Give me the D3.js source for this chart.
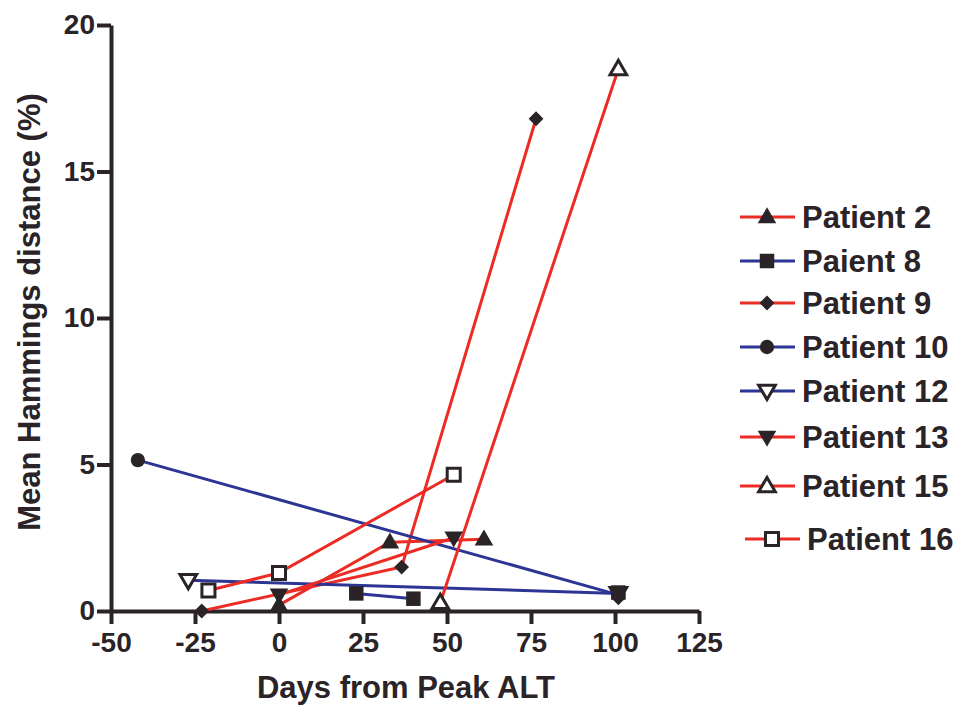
<!DOCTYPE html>
<html>
<head>
<meta charset="utf-8">
<script src="https://cdn.jsdelivr.net/npm/d3@7"></script>
<style>
  body { margin: 0; background: #fff; }
  svg text { font-family: "Liberation Sans", Arial, sans-serif; font-weight: bold; fill: #2a2327; }
</style>
</head>
<body>
<div id="chart"></div>
<script>
// data (null = no connecting line)
var names = ["Patient 2", "Paient 8", "Patient 9", "Patient 10", "Patient 12", "Patient 13", "Patient 15", "Patient 16"];
var p2Days = [0, 33, 61];            var p2Vals = [0.2, 2.35, 2.45];
var p8Days = [23, 40, null, 101];    var p8Vals = [0.6, 0.42, null, 0.63];
var p9Days = [-23, 36.5, 76.5, null, 101]; var p9Vals = [0, 1.5, 16.8, null, 0.45];
var p10Days = [-42, 101];            var p10Vals = [5.15, 0.55];
var p12Days = [-27, 101];            var p12Vals = [1.05, 0.6];
var p13Days = [0, 52];               var p13Vals = [0.55, 2.5];
var p15Days = [48, 101];             var p15Vals = [0.28, 18.5];
var p16Days = [-21, 0, 52];          var p16Vals = [0.7, 1.3, 4.65];
var xTicks = [-50, -25, 0, 25, 50, 75, 100, 125];
var yTicks = [0, 5, 10, 15, 20];

var allDays = [p2Days, p8Days, p9Days, p10Days, p12Days, p13Days, p15Days, p16Days];
var allVals = [p2Vals, p8Vals, p9Vals, p10Vals, p12Vals, p13Vals, p15Vals, p16Vals];

// styles
var red = "#ec2c24";
var blue = "#2c3594";
var ink = "#2a2327";
var colors = [red, blue, red, blue, blue, red, red, red];
var shapes = ["triUp", "square", "diamond", "circle", "triDownOpen", "triDown", "triUpOpen", "squareOpen"];

var width = 959, height = 706;
var margin = {top: 25, left: 111, right: 260, bottom: 95};
var inner_width = 699 - margin.left;
var inner_height = 611 - margin.top;

var svg = d3.select("#chart").append("svg")
  .attr("width", width).attr("height", height);
var g = svg.append("g")
  .attr("transform", "translate(" + margin.left + "," + margin.top + ")");

var xScale = d3.scaleLinear().domain([-50, 125]).range([0, inner_width]);
var yScale = d3.scaleLinear().domain([0, 20]).range([inner_height, 0]);

// axes
var xAxis = g.append("g")
  .attr("transform", "translate(0," + inner_height + ")")
  .call(d3.axisBottom(xScale).tickValues(xTicks).tickSize(13).tickSizeOuter(0)
        .tickPadding(6).tickFormat(function(d) { return String(d); }));
var yAxis = g.append("g")
  .call(d3.axisLeft(yScale).tickValues(yTicks).tickSize(14).tickSizeOuter(0)
        .tickPadding(2).tickFormat(function(d) { return String(d); }));
[xAxis, yAxis].forEach(function(a) {
  a.select(".domain").attr("stroke", ink).attr("stroke-width", 4);
  a.selectAll(".tick line").attr("stroke", ink).attr("stroke-width", 4);
  a.selectAll(".tick text").attr("font-size", 28).attr("fill", ink)
   .attr("font-family", "Liberation Sans, Arial, sans-serif").attr("font-weight", "bold");
});
xAxis.selectAll(".tick text").attr("dy", "0.78em");

// axis titles
svg.append("text")
  .attr("x", 406).attr("y", 698)
  .attr("text-anchor", "middle").attr("font-size", 31)
  .text("Days from Peak ALT");
svg.append("text")
  .attr("transform", "translate(40,312) rotate(-90)")
  .attr("text-anchor", "middle").attr("font-size", 31)
  .text("Mean Hammings distance (%)");

// marker drawing
function drawMarker(sel, shape, x, y) {
  var open = shape.indexOf("Open") >= 0;
  var p;
  if (shape.indexOf("tri") === 0) {
    p = sel.append("path").attr("d", d3.symbol().type(d3.symbolTriangle).size(open ? 120 : 150)());
    var rot = shape.indexOf("Down") >= 0 ? 180 : 0;
    p.attr("transform", "translate(" + x + "," + (y + (rot ? -1 : 1)) + ") rotate(" + rot + ")");
  } else if (shape.indexOf("square") === 0) {
    p = sel.append("path").attr("d", d3.symbol().type(d3.symbolSquare).size(open ? 170 : 210)())
      .attr("transform", "translate(" + x + "," + y + ")");
  } else if (shape === "diamond") {
    p = sel.append("path").attr("d", d3.symbol().type(d3.symbolSquare).size(110)())
      .attr("transform", "translate(" + x + "," + y + ") rotate(45)");
  } else {
    p = sel.append("path").attr("d", d3.symbol().type(d3.symbolCircle).size(160)())
      .attr("transform", "translate(" + x + "," + y + ")");
  }
  if (open) p.attr("fill", "#fff").attr("stroke", ink).attr("stroke-width", 3);
  else p.attr("fill", ink);
}

var line = d3.line()
  .defined(function(d) { return d[0] !== null; })
  .x(function(d) { return xScale(d[0]); })
  .y(function(d) { return yScale(d[1]); });

var series = names.map(function(name, i) {
  return allDays[i].map(function(d, j) { return [d, allVals[i][j]]; });
});

// lines first, then markers (last data set underneath)
series.forEach(function(pts, i) {
  g.append("path").datum(pts)
    .attr("d", line)
    .attr("fill", "none")
    .attr("stroke", colors[i])
    .attr("stroke-width", 3);
});
var mg = g.append("g");
series.slice().reverse().forEach(function(pts, k) {
  var i = series.length - 1 - k;
  pts.filter(function(d) { return d[0] !== null; }).forEach(function(d) {
    drawMarker(mg, shapes[i], xScale(d[0]), yScale(d[1]));
  });
});

// legend
var legendY = [217, 261, 303, 347, 391, 437, 486, 539];
var legend = svg.append("g");
names.forEach(function(name, i) {
  var off = i === 7 ? 5 : 0;
  var lg = legend.append("g");
  lg.append("line")
    .attr("x1", 740 + off).attr("x2", 795 + off)
    .attr("y1", legendY[i]).attr("y2", legendY[i])
    .attr("stroke", colors[i]).attr("stroke-width", 3);
  drawMarker(lg, shapes[i], 767 + off, legendY[i]);
  lg.append("text")
    .attr("x", 802 + off).attr("y", legendY[i] + 11)
    .attr("font-size", 31)
    .text(name);
});
</script>
</body>
</html>
